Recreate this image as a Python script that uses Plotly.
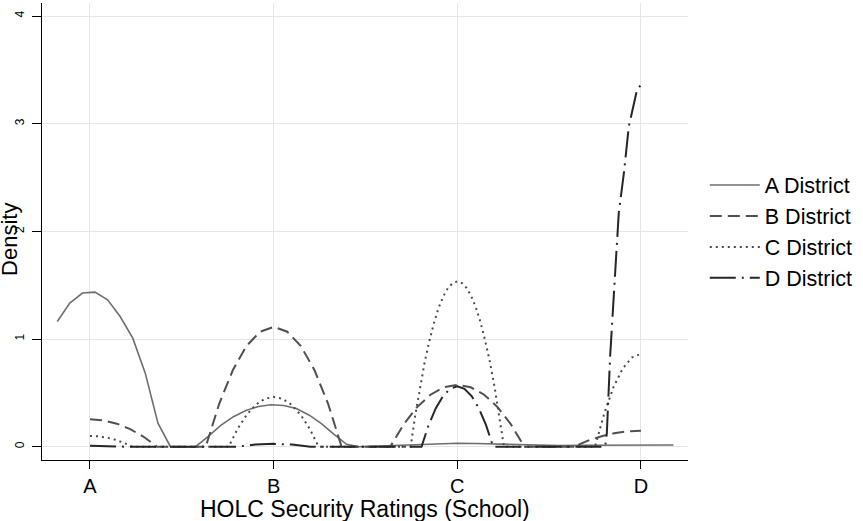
import plotly.graph_objects as go

# ---- data ----
categories = ["A", "B", "C", "D"]
cat_pos = [1, 2, 3, 4]
y_ticks = [0, 1, 2, 3, 4]

A_X = [0.822, 0.890, 0.959, 1.027, 1.096, 1.164, 1.233, 1.301, 1.370, 1.438, 1.507, 1.575,
       1.644, 1.712, 1.781, 1.849, 1.918, 1.986, 2.055, 2.123, 2.192, 2.260, 2.329, 2.397,
       2.466, 2.60, 2.75, 2.90, 3.00, 3.10, 3.25, 3.40, 3.55, 3.70, 3.85, 4.00, 4.177]
A_Y = [1.163, 1.334, 1.427, 1.436, 1.365, 1.209, 1.008, 0.683, 0.218, 0.0, 0.0, 0.0,
       0.096, 0.198, 0.279, 0.337, 0.374, 0.390, 0.383, 0.355, 0.295, 0.215, 0.115, 0.022,
       0.0, 0.008, 0.022, 0.030, 0.032, 0.030, 0.022, 0.012, 0.010, 0.013, 0.016, 0.017, 0.016]

B_X = [1.000, 1.073, 1.146, 1.219, 1.292, 1.365, 1.630, 1.704, 1.778, 1.852, 1.926, 2.000,
       2.074, 2.148, 2.222, 2.296, 2.370, 2.635, 2.708, 2.781, 2.854, 2.927, 3.000, 3.073,
       3.146, 3.219, 3.292, 3.365, 3.635, 3.708, 3.781, 3.854, 3.927, 4.000]
B_Y = [0.255, 0.245, 0.214, 0.163, 0.092, 0.0, 0.0, 0.401, 0.712, 0.935, 1.068, 1.113,
       1.068, 0.935, 0.712, 0.401, 0.0, 0.0, 0.207, 0.368, 0.483, 0.552, 0.575, 0.552,
       0.483, 0.368, 0.207, 0.0, 0.0, 0.054, 0.095, 0.125, 0.143, 0.149]

C_X = [1.000, 1.046, 1.092, 1.138, 1.184, 1.230, 1.755, 1.804, 1.853, 1.902, 1.951, 2.000,
       2.049, 2.098, 2.147, 2.196, 2.245, 2.746, 2.771, 2.797, 2.822, 2.848, 2.873, 2.898,
       2.924, 2.949, 2.975, 3.000, 3.025, 3.051, 3.076, 3.102, 3.127, 3.152, 3.178, 3.203,
       3.229, 3.254, 3.750, 3.800, 3.850, 3.900, 3.950, 4.000]
C_Y = [0.100, 0.096, 0.084, 0.064, 0.036, 0.0, 0.0, 0.167, 0.296, 0.389, 0.444, 0.463,
       0.444, 0.389, 0.296, 0.167, 0.0, 0.0, 0.292, 0.553, 0.783, 0.982, 1.151, 1.289,
       1.397, 1.474, 1.520, 1.535, 1.520, 1.474, 1.397, 1.289, 1.151, 0.982, 0.783, 0.553,
       0.292, 0.0, 0.0, 0.310, 0.552, 0.724, 0.828, 0.862]

D_X = [1.000, 1.100, 1.200, 1.800, 1.900, 2.000, 2.100, 2.200, 2.805, 2.844, 2.883, 2.922,
       2.961, 3.000, 3.039, 3.078, 3.117, 3.156, 3.195, 3.805, 3.814, 3.832, 3.865, 3.879,
       3.907, 3.934, 3.979, 4.000]
D_Y = [0.008, 0.006, 0.0, 0.0, 0.020, 0.027, 0.020, 0.0, 0.0, 0.202, 0.358, 0.470,
       0.538, 0.560, 0.538, 0.470, 0.358, 0.202, 0.0, 0.0, 0.124, 0.837, 1.767, 2.171,
       2.543, 2.977, 3.318, 3.360]

series = [
    ("A District", A_X, A_Y, "#6e6e6e", "solid", 1.6),
    ("B District", B_X, B_Y, "#505050", "12px,6px", 2.0),
    ("C District", C_X, C_Y, "#4a4a4a", "2px,4px", 2.0),
    ("D District", D_X, D_Y, "#262626", "26px,6px,2px,6px", 2.0),
]

fig = go.Figure()
for name, xs, ys, col, dash, w in series:
    fig.add_trace(go.Scatter(x=xs, y=ys, mode="lines", name=name,
                             line=dict(color=col, dash=dash, width=w)))

FONT = "Liberation Sans, Arial, sans-serif"

fig.update_layout(
    width=863, height=521,
    margin=dict(l=42, r=175, t=3, b=61, autoexpand=False),
    paper_bgcolor="white", plot_bgcolor="white",
    font=dict(family=FONT, color="black"),
    showlegend=True,
    legend=dict(x=1.026, xanchor="left", y=0.5, yanchor="middle",
                font=dict(size=21.5, family=FONT, color="black"),
                bgcolor="rgba(0,0,0,0)", itemwidth=50, tracegroupgap=0),
    xaxis=dict(range=[0.7387, 4.256], tickmode="array", tickvals=cat_pos, ticktext=categories,
               automargin=False,
               showgrid=True, gridcolor="#e6e6e6", gridwidth=1,
               showline=True, linecolor="black", linewidth=1.2,
               ticks="outside", ticklen=8, tickcolor="black", tickwidth=1.2,
               tickfont=dict(size=20, family=FONT), zeroline=False),
    yaxis=dict(range=[-0.1235, 4.121], tickmode="array", tickvals=y_ticks,
               ticktext=[str(v) for v in y_ticks], automargin=False,
               showgrid=True, gridcolor="#e6e6e6", gridwidth=1,
               showline=True, linecolor="black", linewidth=1.2,
               ticks="outside", ticklen=9, tickcolor="black", tickwidth=1.2,
               ticklabelstandoff=3,
               tickangle=-90, tickfont=dict(size=12, family=FONT), zeroline=False),
    annotations=[
        dict(text="HOLC Security Ratings (School)", xref="paper", yref="paper",
             x=0.5, y=0, xanchor="center", yanchor="middle", yshift=-49,
             showarrow=False, font=dict(size=23, family=FONT, color="black")),
        dict(text="Density", xref="paper", yref="y", x=0, y=1.92,
             xanchor="center", yanchor="middle", xshift=-32, textangle=-90,
             showarrow=False, font=dict(size=22, family=FONT, color="black")),
    ],
)

fig.write_html("out.html", config={"displayModeBar": False},
               post_script="document.body.style.margin='0';document.body.style.padding='0';")
